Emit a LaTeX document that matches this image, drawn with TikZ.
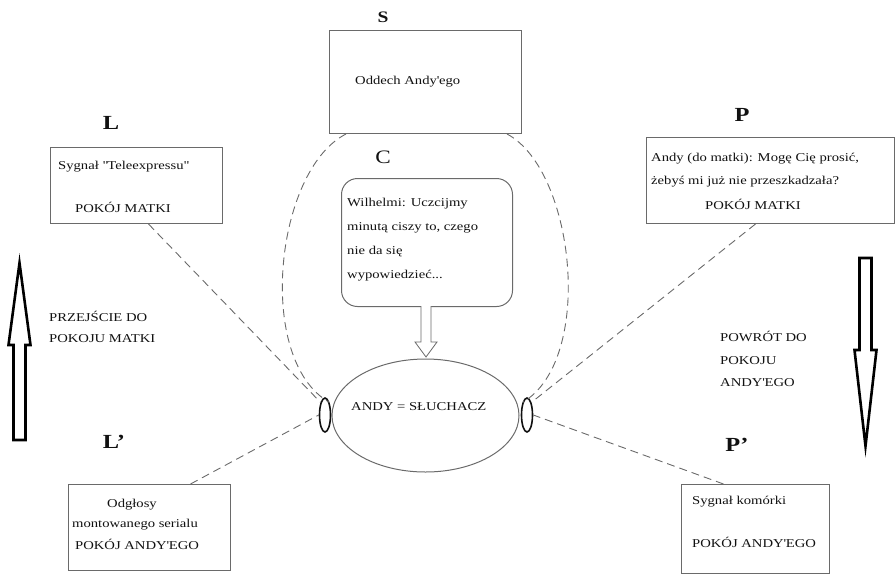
\documentclass[tikz,border=0pt]{standalone}
\usepackage{fontspec}
\setmainfont[FakeStretch=1.22]{Liberation Serif}
\usepackage{xcolor}
\usetikzlibrary{shapes.geometric}
\definecolor{line_gray}{HTML}{6a6a6a}
\definecolor{text_dark}{HTML}{111111}

\tikzset{
  scenebox/.style={draw=line_gray, line width=1pt, anchor=north west, inner sep=0pt},
  txt/.style={anchor=base west, inner sep=0pt, font=\fontsize{12}{14}\selectfont},
  tag/.style={inner sep=0pt, font=\fontsize{20}{24}\selectfont\bfseries},
  link/.style={draw=line_gray, line width=0.9pt, dash pattern=on 8pt off 5pt},
  bigarrow/.style={draw=black, line width=2.6pt, fill=white, line join=miter},
  ear/.style={ellipse, draw=text_dark, line width=1.6pt, inner sep=0pt, minimum width=11pt, minimum height=34pt}
}

\begin{document}
\begin{tikzpicture}[x=1pt, y=-1pt, every node/.style={text=text_dark}]

  \useasboundingbox (0,0) rectangle (896,576);

  % scene boxes
  \node[scenebox, minimum width=192pt, minimum height=103pt] (Sbox) at (329,30) {};
  \node[scenebox, minimum width=171pt, minimum height=128pt, rounded corners=16pt] (Cbox) at (341,178) {};
  \node[scenebox, minimum width=172pt, minimum height=76pt] (Lbox) at (50,147) {};
  \node[scenebox, minimum width=248pt, minimum height=86pt] (Pbox) at (646,137) {};
  \node[scenebox, minimum width=162pt, minimum height=86pt] (Lpbox) at (68,484) {};
  \node[scenebox, minimum width=148pt, minimum height=89pt] (Ppbox) at (681,484) {};

  % listener
  \node[ellipse, draw=line_gray, line width=1pt, minimum width=187pt, minimum height=113pt] (andy) at (425.5,415.5) {};
  \node[ear] (earL) at (325,415) {};
  \node[ear] (earR) at (527,415) {};

  % labels
  \node[tag, font=\fontsize{16}{18}\selectfont\bfseries] (Stag) at (383,17) {S};
  \node[tag, font=\fontsize{19}{22}\selectfont] (Ctag) at (383,157) {C};
  \node[tag] (Ltag) at (111,123) {L};
  \node[tag] (Ptag) at (742,115) {P};
  \node[tag] (Lptag) at (114,442) {L’};
  \node[tag] (Pptag) at (737,445) {P’};

  % texts
  \node[txt] (s1) at (355,84) {Oddech Andy\textquotesingle ego};

  \node[txt] (c1) at (347,206) {Wilhelmi: Uczcijmy};
  \node[txt] (c2) at (347,230) {minutą ciszy to, czego};
  \node[txt] (c3) at (347,254) {nie da się};
  \node[txt] (c4) at (347,278) {wypowiedzieć...};

  \node[txt] (l1) at (58,169) {Sygnał \textquotedbl Teleexpressu\textquotedbl};
  \node[txt] (l2) at (75,212) {POKÓJ MATKI};

  \node[txt] (p1) at (651,161) {Andy (do matki): Mogę Cię prosić,};
  \node[txt] (p2) at (651,184) {żebyś mi już nie przeszkadzała?};
  \node[txt] (p3) at (705,209) {POKÓJ MATKI};

  \node[txt] (lp1) at (107,507) {Odgłosy};
  \node[txt] (lp2) at (72,527) {montowanego serialu};
  \node[txt] (lp3) at (75,549) {POKÓJ ANDY\textquotesingle EGO};

  \node[txt] (pp1) at (692,504) {Sygnał komórki};
  \node[txt] (pp2) at (692,547) {POKÓJ ANDY\textquotesingle EGO};

  \node[txt] (go1) at (49,321) {PRZEJŚCIE DO};
  \node[txt] (go2) at (49,342) {POKOJU MATKI};

  \node[txt] (back1) at (720,341) {POWRÓT DO};
  \node[txt] (back2) at (720,364) {POKOJU};
  \node[txt] (back3) at (720,386) {ANDY\textquotesingle EGO};

  \node[txt] (a1) at (351,410) {ANDY = SŁUCHACZ};

  % dashed links
  \draw[link] ([xshift=17pt]Sbox.south west) .. controls (275,170) and (255,360) .. (earL.north east);
  \draw[link] ([xshift=-15pt]Sbox.south east) .. controls (575,170) and (595,360) .. (earR.north west);
  \draw[link] ([xshift=12pt]Lbox.south) -- (earL.north west);
  \draw[link] ([xshift=41pt]Lpbox.north) -- (earL.west);
  \draw[link] ([xshift=-15pt]Pbox.south) -- (earR.north east);
  \draw[link] ([xshift=-32pt]Ppbox.north) -- (earR.east);

  % C -> andy
  \draw[draw=line_gray, line width=0.8pt, fill=white] (421,306) -- (421,342) -- (415,342) -- (426,357)
    -- (437,342) -- (431,342) -- (431,306);

  % room change arrows
  \draw[bigarrow] (13.5,440) -- (13.5,345) -- (8.5,345) -- (19.5,263) -- (30.5,345) -- (25.5,345) -- (25.5,440) -- cycle;
  \draw[bigarrow] (859.5,258) -- (859.5,350) -- (854.5,350) -- (865.5,446) -- (876.5,350) -- (871.5,350) -- (871.5,258) -- cycle;

\end{tikzpicture}
\end{document}
